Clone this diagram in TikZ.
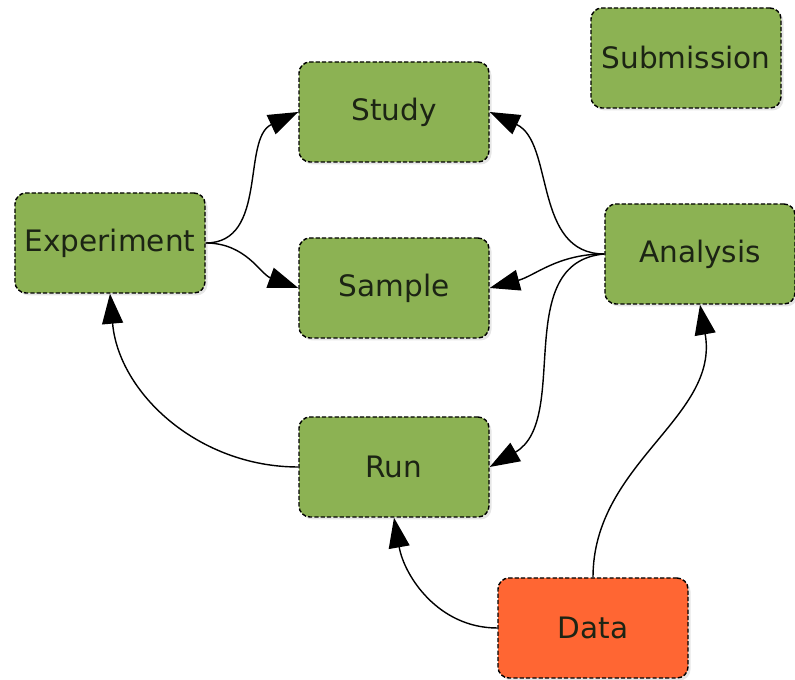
\documentclass[tikz,border=0pt]{standalone}
\usepackage{fontspec}
\setmainfont{DejaVu Sans}
\usetikzlibrary{arrows.meta,shadows}
\definecolor{boxgreen}{HTML}{8CB253}
\definecolor{boxorange}{HTML}{FF6633}
\definecolor{boxtext}{HTML}{1C2414}
\begin{document}
\begin{tikzpicture}[
        entity/.style={draw=black, dash pattern=on 2.4pt off 1.2pt, line width=0.8pt,
            fill=boxgreen, rounded corners=0.22cm, minimum width=3.8cm, minimum height=2cm,
            text=boxtext, font=\fontsize{16.8}{20}\selectfont,
            drop shadow={opacity=0.2, shadow xshift=0.05cm, shadow yshift=-0.05cm}},
        source/.style={entity, fill=boxorange},
        link/.style={line width=0.8pt, -{Triangle[length=0.6cm,width=0.42cm]}}]
        \useasboundingbox (0,0) rectangle (15.9,13.6);

        \node[entity] (study) at (7.88,11.36) {Study};
        \node[entity] (submission) at (13.72,12.44) {Submission};
        \node[entity] (experiment) at (2.20,8.74) {Experiment};
        \node[entity] (sample) at (7.88,7.84) {Sample};
        \node[entity] (analysis) at (14.0,8.52) {Analysis};
        \node[entity] (run) at (7.88,4.26) {Run};
        \node[source] (data) at (11.86,1.04) {Data};

        \draw[link] (experiment.east) to[out=0,in=205] (study.west);
        \draw[link] (experiment.east) to[out=0,in=160] (sample.west);
        \draw[link] (analysis.west) to[out=180,in=-25] (study.east);
        \draw[link] (analysis.west) to[out=180,in=15] (sample.east);
        \draw[link] (analysis.west) to[out=185,in=30] (run.east);
        \draw[link] (run.west) to[out=180,in=-85] (experiment.south);
        \draw[link] (data.west) to[out=180,in=-80] (run.south);
        \draw[link] (data.north) to[out=90,in=-80] (analysis.south);
    \end{tikzpicture}
\end{document}
